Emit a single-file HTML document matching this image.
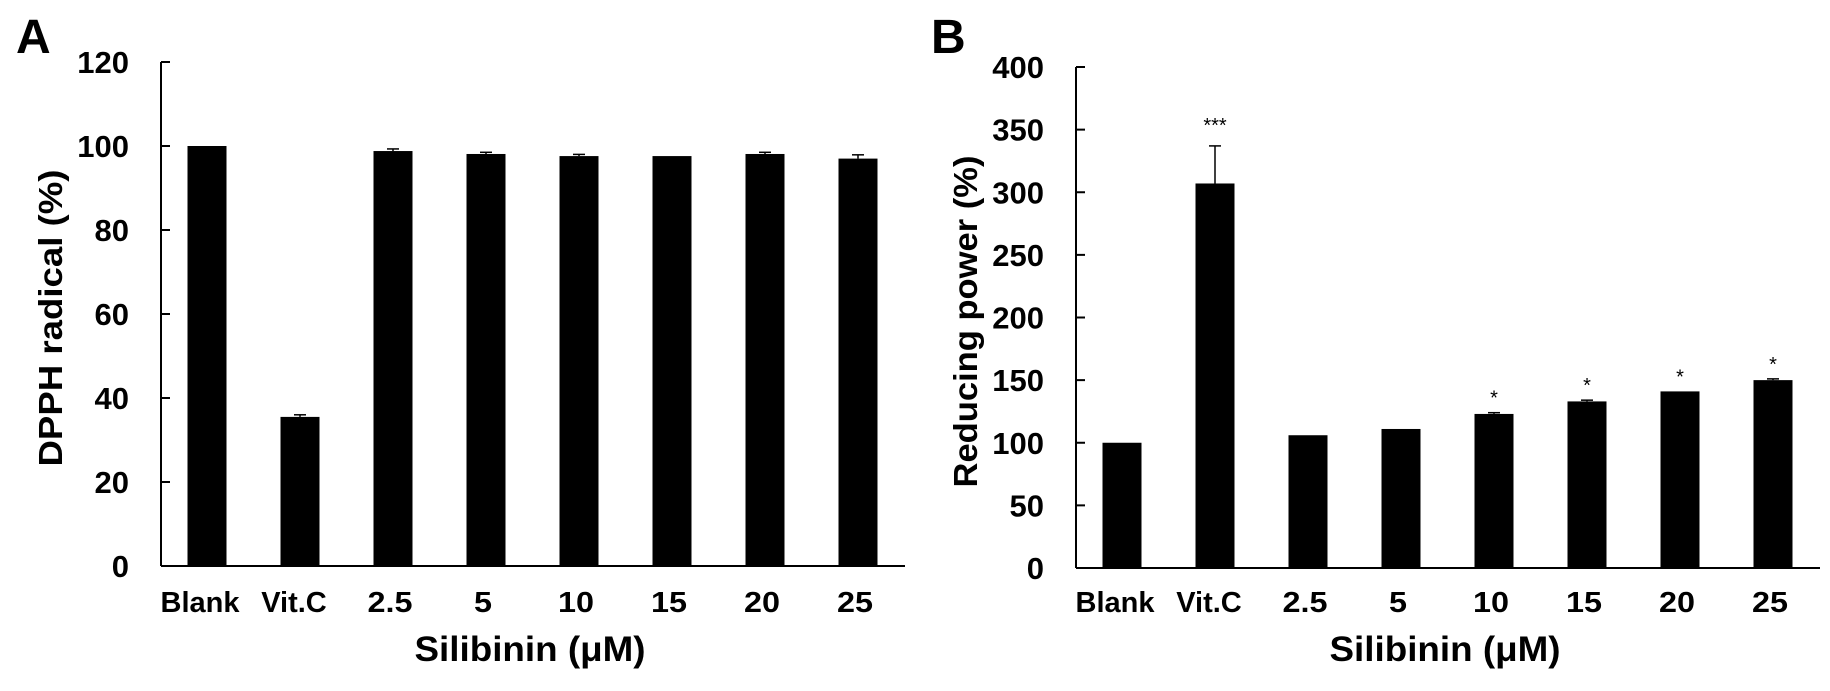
<!DOCTYPE html>
<html><head><meta charset="utf-8"><style>
body{margin:0;background:#fff}
svg text{font-family:"Liberation Sans",Arial,sans-serif;font-weight:bold;fill:#000}
</style></head><body>
<svg id="fig" width="1830" height="686" viewBox="0 0 1830 686" xmlns="http://www.w3.org/2000/svg"></svg>
<script>
const categories=["Blank","Vit.C","2.5","5","10","15","20","25"];
const dpphValues=[100,35.5,98.8,98.1,97.6,97.6,98.1,97.0];
const dpphErrors=[0,0.5,0.5,0.4,0.4,0,0.4,0.9];
const dpphTicks=[0,20,40,60,80,100,120];
const reduceValues=[100,307,106,111,123,133,141,150];
const reduceErrors=[0,30,0,0,1,1,0,1];
const reduceStars=["","***","","","*","*","*","*"];
const reduceTicks=[0,50,100,150,200,250,300,350,400];
const NS="http://www.w3.org/2000/svg";
const svg=document.getElementById('fig');
function mk(tag,attrs,parent){const e=document.createElementNS(NS,tag);for(const k in attrs)e.setAttribute(k,attrs[k]);(parent||svg).appendChild(e);return e;}
function labelWidth(s){let w=0;for(const c of s)w+=(c==='.'?9:18);return w;}
function panel(ox,y0,yTop,maxV,vals,errs,ticks,stars,ytitle,ytLen,letter,lname){
  const g=mk('g',{});
  
  
  const ax=ox+161, axEnd=ox+905;
  const y=v=>y0-(v/maxV)*(y0-yTop);
  const xc=i=>ox+207+i*93.0;
  const L=mk('text',{x:ox+16,y:53,'font-size':48},g);L.textContent=letter;
  
  
  const ya=mk('line',{x1:ax,y1:yTop,x2:ax,y2:y0,stroke:'#000','stroke-width':2},g);
  
  
  const xa=mk('line',{x1:ax,y1:y0,x2:axEnd,y2:y0,stroke:'#000','stroke-width':2},g);
  
  
  ticks.forEach(t=>{
    mk('line',{x1:ax,y1:y(t),x2:ax+9,y2:y(t),stroke:'#000','stroke-width':2},g);
    const tx=mk('text',{x:ax-32,y:y(t)+11,'font-size':31,'text-anchor':'end'},g);
    tx.textContent=t;
    
    
  });
  vals.forEach((v,i)=>{
    const r=mk('rect',{x:xc(i)-19.5,y:y(v),width:39,height:y0-y(v),fill:'#000'},g);
    
    
    if(errs[i]>0){
      mk('line',{x1:xc(i),y1:y(v),x2:xc(i),y2:y(v+errs[i]),stroke:'#000','stroke-width':1.5},g);
      mk('line',{x1:xc(i)-6,y1:y(v+errs[i]),x2:xc(i)+6,y2:y(v+errs[i]),stroke:'#000','stroke-width':1.5},g);
    }
    if(stars&&stars[i]){
      const s=mk('text',{x:xc(i),y:y(v+errs[i])-(errs[i]>10?14:8),'font-size':20,'text-anchor':'middle'},g);
      s.style.fontWeight='normal';
      s.textContent=stars[i];
      
      
    }
  });
  const lc=[ox+200,ox+294];
  categories.forEach((c,i)=>{
    const cx=i<2?lc[i]:xc(i)-3;
    const attrs={x:cx,y:612,'font-size':29,'text-anchor':'middle'};
    if(i>=2){attrs.textLength=labelWidth(c);attrs.lengthAdjust='spacingAndGlyphs';}
    const t=mk('text',attrs,g);
    t.textContent=c;
    
    
  });
  const xt=mk('text',{x:ox+530,y:661,'font-size':35,'text-anchor':'middle',textLength:231,lengthAdjust:'spacingAndGlyphs'},g);
  xt.textContent='Silibinin (μM)';
  
  
  const yt=mk('text',{x:0,y:0,'font-size':33,'text-anchor':'middle',textLength:ytLen,lengthAdjust:'spacingAndGlyphs','transform':`translate(${ox+62},${(y0+yTop)/2+4}) rotate(-90)`},g);
  yt.textContent=ytitle;
  
  
}
panel(0,566,62,120,dpphValues,dpphErrors,dpphTicks,null,'DPPH radical (%)',297,'A','panel-a-dpph');
panel(915,568,67,400,reduceValues,reduceErrors,reduceTicks,reduceStars,'Reducing power (%)',332,'B','panel-b-reducing-power');
</script>
</body></html>
